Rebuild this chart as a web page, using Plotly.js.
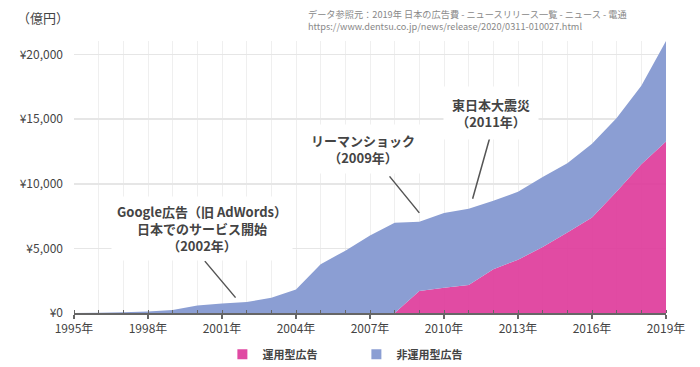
<!DOCTYPE html>
<html><head><meta charset="utf-8">
<script src="https://cdn.plot.ly/plotly-3.0.1.min.js"></script>
<style>html,body{margin:0;padding:0;background:#fff}#chart{width:700px;height:367px}</style>
</head><body><div id="chart"></div>
<script>
// 年
const years = [1995,1996,1997,1998,1999,2000,2001,2002,2003,2004,2005,2006,2007,2008,2009,2010,2011,2012,2013,2014,2015,2016,2017,2018,2019];
// 運用型広告（億円）
const unyouAds = [0,0,0,0,0,0,0,0,0,0,0,0,0,0,1700,1960,2160,3390,4122,5106,6226,7383,9400,11518,13267];
// 非運用型広告（億円）
const hiUnyouAds = [0,16,60,114,241,590,735,845,1183,1814,3777,4826,6003,6983,5369,5787,5902,5290,5259,5413,5368,5717,5694,6071,7781];
// x軸ラベル
const xTickVals = [1995,1998,2001,2004,2007,2010,2013,2016,2019];
const xTickText = ['1995年','1998年','2001年','2004年','2007年','2010年','2013年','2016年','2019年'];
// y軸ラベル
const yTickVals = [0,5000,10000,15000,20000];
const yTickText = ['\u00A50','\u00A55,000','\u00A510,000','\u00A515,000','\u00A520,000'];
const seriesNames = ['運用型広告','非運用型広告'];

const pink = '#e04aa3';
const pinkFill = 'rgba(222,60,155,0.92)';
const blue = '#8b9ed3';
const font = '"Noto Sans CJK JP", "Noto Sans", sans-serif';

const traces = [
  {x: years, y: unyouAds, stackgroup: 'one', mode: 'none', fillcolor: pinkFill, name: seriesNames[0], showlegend: false, hoverinfo: 'skip'},
  {x: years, y: hiUnyouAds, stackgroup: 'one', mode: 'none', fillcolor: blue, name: seriesNames[1], showlegend: false, hoverinfo: 'skip'},
  {x: [null], y: [null], mode: 'markers', marker: {symbol: 'square', size: 10, color: pink}, name: seriesNames[0]},
  {x: [null], y: [null], mode: 'markers', marker: {symbol: 'square', size: 10, color: blue}, name: seriesNames[1]}
];

const annFont = {family: font, size: 13, color: '#444', weight: 700};
const lineColor = '#555';
const layout = {
  width: 700, height: 367,
  margin: {l: 74, r: 34, t: 41, b: 54, autoexpand: false},
  paper_bgcolor: '#fff', plot_bgcolor: '#fff',
  font: {family: font, color: '#444', size: 12},
  hovermode: false,
  showlegend: true,
  legend: {orientation: 'h', x: 0.477, xanchor: 'center', y: -0.152, yanchor: 'middle',
           font: {family: font, size: 11, color: '#444', weight: 700},
           traceorder: 'normal', entrywidth: 89, entrywidthmode: 'pixels', itemwidth: 30},
  xaxis: {
    range: [1995, 2019], tickmode: 'array', tickvals: xTickVals, ticktext: xTickText,
    showline: true, linecolor: '#666', linewidth: 1.5,
    ticks: 'outside', ticklen: 4, tickwidth: 1.5, tickcolor: '#666',
    showgrid: true, gridcolor: '#efefef', gridwidth: 1,
    minor: {dtick: 1, tick0: 1995, ticks: 'inside', ticklen: 3, tickwidth: 1, tickcolor: '#666', showgrid: true, gridcolor: '#efefef', gridwidth: 1},
    tickfont: {family: font, size: 12, color: '#444'},
    zeroline: false, fixedrange: true
  },
  xaxis2: {
    overlaying: 'x', anchor: 'y', side: 'bottom', range: [1995, 2019],
    tickmode: 'array', tickvals: xTickVals, ticks: 'inside', ticklen: 4, tickwidth: 1.5, tickcolor: '#666',
    showticklabels: false, showgrid: false, showline: false, zeroline: false, fixedrange: true
  },
  yaxis: {
    range: [0, 21048], tickmode: 'array', tickvals: yTickVals, ticktext: yTickText,
    showgrid: true, gridcolor: '#e6e6e6', gridwidth: 1.5, zeroline: false, showline: false,
    ticks: '', ticklabelstandoff: 10,
    tickfont: {family: font, size: 12, color: '#444'}, fixedrange: true
  },
  annotations: [
    {xref: 'paper', yref: 'paper', x: -0.052, y: 1.088, text: '（億円）', showarrow: false,
     font: {family: font, size: 13, color: '#444'}, xanchor: 'center', yanchor: 'middle'},
    {xref: 'paper', yref: 'paper', x: 0.392, y: 1.079, xanchor: 'left', yanchor: 'middle', align: 'left', showarrow: false,
     text: 'データ参照元：2019年 日本の広告費 - ニュースリリース一覧 - ニュース - 電通<br>https://www.dentsu.co.jp/news/release/2020/0311-010027.html',
     font: {family: font, size: 9.2, color: '#888'}},
    // arrows
    {xref: 'x', yref: 'y', x: 2001.55, y: 1190, ax: -32, ay: -38, text: '', showarrow: true, arrowhead: 0, arrowwidth: 1.5, arrowcolor: lineColor},
    {xref: 'x', yref: 'y', x: 2009, y: 7750, ax: -31, ay: -38, text: '', showarrow: true, arrowhead: 0, arrowwidth: 1.5, arrowcolor: lineColor},
    {xref: 'x', yref: 'y', x: 2011.16, y: 8845, ax: 18, ay: -64, text: '', showarrow: true, arrowhead: 0, arrowwidth: 1.5, arrowcolor: lineColor},
    // labels
    {xref: 'paper', yref: 'paper', x: 0.216, y: 0.310, text: 'Google広告（旧 AdWords）<br>日本でのサービス開始<br>（2002年）',
     showarrow: false, font: annFont, bgcolor: '#fff', borderpad: 5, xanchor: 'center', yanchor: 'middle'},
    {xref: 'paper', yref: 'paper', x: 0.488, y: 0.604, text: 'リーマンショック<br>（2009年）',
     showarrow: false, font: annFont, bgcolor: '#fff', borderpad: 6, xanchor: 'center', yanchor: 'middle'},
    {xref: 'paper', yref: 'paper', x: 0.704, y: 0.736, text: '東日本大震災<br>（2011年）',
     showarrow: false, font: annFont, bgcolor: '#fff', borderpad: 8, xanchor: 'center', yanchor: 'middle'}
  ]
};

Plotly.newPlot('chart', traces, layout, {displayModeBar: false, staticPlot: true});
</script></body></html>
